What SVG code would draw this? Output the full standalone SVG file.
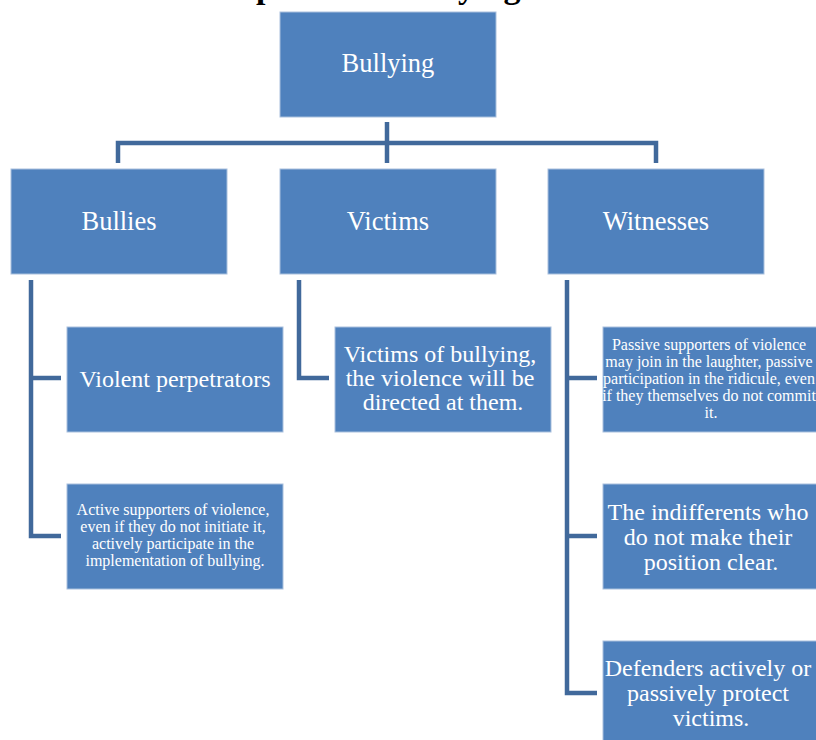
<svg xmlns="http://www.w3.org/2000/svg" width="816" height="740" viewBox="0 0 816 740">
  <style>
    .box { fill: #4f81bd; stroke: #a9c0dd; stroke-width: 1; }
    .t { font-family: "Liberation Serif", "Times New Roman", serif; fill: #ffffff; text-anchor: middle; }
    .l1 { font-size: 26.5px; }
    .l2 { font-size: 24px; }
    .l3 { font-size: 16px; }
    .conn { fill: none; stroke: #41699b; stroke-width: 4.5; stroke-linejoin: miter; stroke-linecap: butt; }
    .title { font-family: "Liberation Serif", "Times New Roman", serif; font-weight: bold; font-size: 34px; fill: #000000; }
  </style>
  <rect x="0" y="0" width="816" height="740" fill="#ffffff"/>
  <text class="title" x="170" y="-2">Main parties in bullying in schools</text>

  <g id="connectors">
    <path class="conn" d="M387,122 V163"/>
    <path class="conn" d="M118,163 V143 H656 V163"/>
    <path class="conn" d="M31,280 V536 H61"/>
    <path class="conn" d="M31,378 H61"/>
    <path class="conn" d="M299,280 V378 H329"/>
    <path class="conn" d="M567,280 V693 H597"/>
    <path class="conn" d="M567,378 H597"/>
    <path class="conn" d="M567,536 H597"/>
  </g>

  <g id="bullying">
    <rect class="box" x="280" y="12" width="216" height="105"/>
    <text class="t l1" x="388" y="72">Bullying</text>
  </g>

  <g id="bullies">
    <rect class="box" x="11" y="169" width="216" height="105"/>
    <text class="t l1" x="119" y="230">Bullies</text>
  </g>
  <g id="victims">
    <rect class="box" x="280" y="169" width="216" height="105"/>
    <text class="t l1" x="388" y="230">Victims</text>
  </g>
  <g id="witnesses">
    <rect class="box" x="548" y="169" width="216" height="105"/>
    <text class="t l1" x="656" y="230">Witnesses</text>
  </g>

  <g id="violent-perpetrators">
    <rect class="box" x="67" y="327" width="216" height="105"/>
    <text class="t l2" x="175" y="387">Violent perpetrators</text>
  </g>
  <g id="active-supporters">
    <rect class="box" x="67" y="484" width="216" height="105"/>
    <text class="t l3" x="175">
      <tspan x="175" y="515">Active supporters of violence,</tspan>
      <tspan x="175" y="532">even if they do not initiate it,</tspan>
      <tspan x="175" y="549">actively participate in the</tspan>
      <tspan x="175" y="566">implementation of bullying.</tspan>
    </text>
  </g>

  <g id="victims-of-bullying">
    <rect class="box" x="335" y="327" width="216" height="105"/>
    <text class="t l2" x="443">
      <tspan x="443" y="362">Victims of bullying,</tspan>
      <tspan x="443" y="386">the violence will be</tspan>
      <tspan x="443" y="410">directed at them.</tspan>
    </text>
  </g>

  <g id="passive-supporters">
    <rect class="box" x="603" y="327" width="216" height="105"/>
    <text class="t l3" x="711">
      <tspan x="711" y="350">Passive supporters of violence</tspan>
      <tspan x="711" y="367">may join in the laughter, passive</tspan>
      <tspan x="711" y="384">participation in the ridicule, even</tspan>
      <tspan x="711" y="401">if they themselves do not commit</tspan>
      <tspan x="711" y="418">it.</tspan>
    </text>
  </g>
  <g id="indifferents">
    <rect class="box" x="603" y="484" width="216" height="105"/>
    <text class="t l2" x="711">
      <tspan x="711" y="520">The indifferents who</tspan>
      <tspan x="711" y="545">do not make their</tspan>
      <tspan x="711" y="570">position clear.</tspan>
    </text>
  </g>
  <g id="defenders">
    <rect class="box" x="603" y="641" width="216" height="105"/>
    <text class="t l2" x="711">
      <tspan x="711" y="676">Defenders actively or</tspan>
      <tspan x="711" y="701">passively protect</tspan>
      <tspan x="711" y="726">victims.</tspan>
    </text>
  </g>
</svg>
